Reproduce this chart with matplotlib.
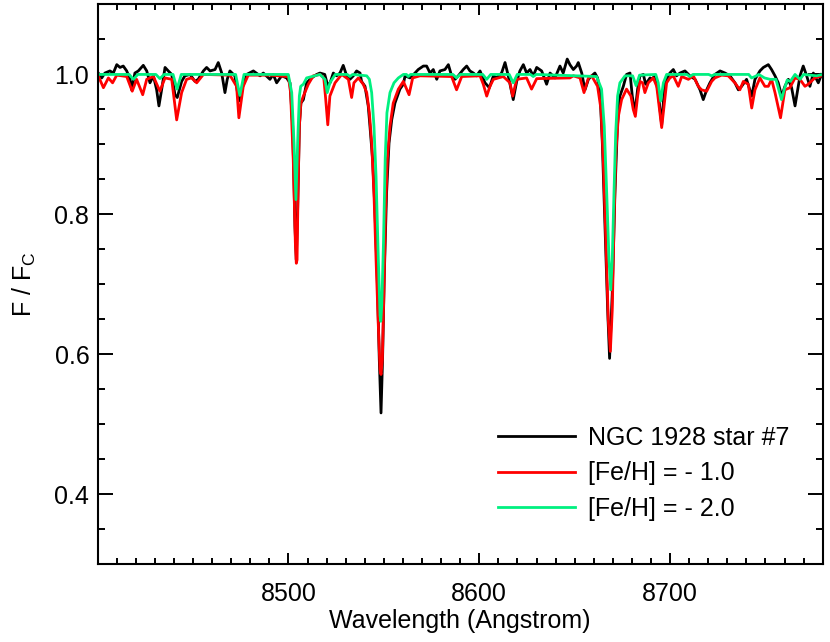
import matplotlib
matplotlib.use('Agg')
import matplotlib.pyplot as plt
from matplotlib.ticker import MultipleLocator

plt.rcParams['font.family'] = ['Liberation Sans', 'DejaVu Sans']

# observed spectrum, NGC 1928 star #7
star_wl = [8400.3, 8402.1, 8403.8, 8406.4, 8408.2, 8410.0, 8411.7, 8413.4, 8415.2, 8417.0,
           8417.8, 8419.5, 8421.3, 8423.9, 8425.7, 8427.4, 8429.2, 8430.9, 8432.1, 8433.5,
           8435.3, 8437.0, 8438.8, 8440.5, 8441.7, 8444.0, 8445.7, 8448.4, 8451.0, 8452.7,
           8455.4, 8457.1, 8458.9, 8461.5, 8463.2, 8465.0, 8466.7, 8467.9, 8469.3, 8471.9,
           8474.0, 8475.5, 8478.1, 8481.6, 8485.1, 8486.8, 8490.3, 8492.0, 8493.8, 8496.4,
           8499.0, 8500.8, 8502.2, 8503.4, 8504.1, 8504.8, 8505.7, 8506.5, 8507.8, 8509.5,
           8512.1, 8514.8, 8516.5, 8519.0, 8520.5, 8521.8, 8523.5, 8525.2, 8527.0, 8528.7,
           8530.5, 8532.2, 8534.0, 8535.7, 8537.5, 8538.3, 8540.1, 8541.8, 8542.7, 8544.1,
           8545.3, 8546.5, 8547.6, 8548.5, 8549.3, 8550.2, 8551.4, 8552.7, 8554.1, 8555.8,
           8558.4, 8560.2, 8561.1, 8563.7, 8566.3, 8568.0, 8570.7, 8572.4, 8574.2, 8575.9,
           8577.7, 8579.4, 8582.0, 8583.8, 8585.5, 8587.3, 8589.0, 8591.6, 8593.4, 8595.1,
           8596.9, 8598.6, 8600.4, 8603.0, 8605.3, 8607.4, 8609.1, 8611.7, 8613.5, 8615.2,
           8617.8, 8619.6, 8621.3, 8623.1, 8624.8, 8626.6, 8628.3, 8630.1, 8632.7, 8635.3,
           8637.1, 8639.7, 8642.3, 8644.0, 8646.1, 8647.5, 8649.3, 8651.0, 8651.9, 8653.7,
           8655.4, 8657.2, 8658.9, 8660.6, 8662.0, 8663.3, 8664.5, 8665.9, 8667.3, 8668.3,
           8669.7, 8671.1, 8672.4, 8673.7, 8675.5, 8677.2, 8679.0, 8680.2, 8681.6, 8683.0,
           8684.2, 8686.0, 8687.2, 8689.5, 8690.3, 8692.1, 8693.8, 8695.6, 8697.3, 8699.9,
           8701.7, 8703.4, 8705.2, 8707.8, 8710.4, 8713.1, 8715.7, 8717.4, 8719.2, 8720.9,
           8723.5, 8726.2, 8728.8, 8731.4, 8734.0, 8735.8, 8737.5, 8740.1, 8742.8, 8744.5,
           8747.1, 8748.9, 8751.5, 8753.2, 8755.0, 8756.7, 8758.5, 8760.2, 8762.0, 8763.7,
           8765.5, 8768.1, 8769.8, 8771.6, 8773.3, 8775.1, 8777.7, 8779.4]
star_flux = [1.002, 0.995, 1.002, 1.005, 1.002, 1.014, 1.010, 1.012, 1.005, 0.993,
             0.978, 1.002, 1.005, 1.013, 1.005, 0.988, 0.998, 0.978, 0.955, 0.978,
             1.010, 1.005, 1.000, 0.971, 0.967, 0.990, 0.998, 1.000, 0.990, 0.993,
             1.005, 1.010, 1.005, 1.007, 1.017, 1.002, 0.974, 0.993, 1.005, 0.998,
             0.962, 0.978, 1.000, 1.005, 0.998, 1.002, 0.993, 1.000, 0.988, 0.998,
             0.995, 0.988, 0.926, 0.783, 0.735, 0.807, 0.926, 0.959, 0.964, 0.988,
             0.995, 1.000, 1.002, 1.000, 0.985, 0.988, 1.002, 0.998, 1.002, 1.013,
             0.998, 0.993, 0.998, 1.005, 1.002, 0.990, 0.983, 0.955, 0.926, 0.878,
             0.807, 0.711, 0.592, 0.516, 0.592, 0.711, 0.830, 0.902, 0.935, 0.959,
             0.979, 0.986, 0.998, 0.995, 1.002, 1.007, 1.012, 1.012, 1.002, 1.007,
             0.993, 1.005, 1.007, 1.014, 0.998, 0.993, 0.998, 1.007, 1.012, 1.005,
             1.002, 0.998, 1.005, 0.988, 0.981, 0.998, 0.995, 1.002, 1.017, 0.998,
             0.964, 0.990, 1.005, 1.014, 1.002, 1.007, 0.998, 1.010, 1.005, 0.986,
             1.002, 0.995, 1.012, 1.002, 1.022, 1.014, 1.007, 1.012, 1.017, 1.002,
             0.978, 0.993, 0.998, 1.002, 0.995, 0.974, 0.902, 0.783, 0.663, 0.594,
             0.687, 0.830, 0.926, 0.969, 0.983, 1.000, 1.002, 0.969, 0.945, 0.979,
             0.998, 1.000, 0.986, 0.995, 0.993, 0.998, 0.974, 0.928, 0.988, 1.002,
             1.007, 0.998, 1.002, 1.005, 0.998, 0.993, 0.978, 0.964, 0.978, 0.988,
             1.000, 1.005, 1.002, 0.998, 0.988, 0.978, 0.983, 0.993, 0.969, 0.993,
             1.005, 1.010, 1.014, 1.007, 0.998, 0.988, 0.969, 0.983, 0.993, 0.981,
             0.955, 0.998, 1.012, 0.998, 0.983, 1.002, 0.988, 1.000]

# synthetic spectrum, [Fe/H] = -1.0
red_wl = [8400.3, 8403.0, 8405.6, 8407.8, 8410.0, 8415.2, 8418.1, 8420.4, 8423.6, 8425.7,
          8429.2, 8432.6, 8435.3, 8438.8, 8441.4, 8444.0, 8446.6, 8449.2, 8451.9, 8455.4,
          8469.3, 8472.8, 8474.0, 8476.3, 8478.9, 8490.3, 8499.0, 8499.9, 8501.1, 8502.5,
          8503.6, 8504.1, 8504.5, 8505.0, 8505.7, 8506.5, 8507.8, 8510.4, 8513.0, 8516.5,
          8518.5, 8519.5, 8520.6, 8521.7, 8524.4, 8527.9, 8531.4, 8533.1, 8534.3, 8536.6,
          8539.2, 8541.0, 8542.4, 8543.6, 8544.8, 8545.9, 8547.1, 8548.0, 8548.5, 8549.2,
          8550.0, 8550.9, 8551.8, 8553.2, 8554.9, 8557.6, 8560.2, 8563.2, 8565.1, 8568.9,
          8585.5, 8588.1, 8590.8, 8600.4, 8602.1, 8603.9, 8605.6, 8607.4, 8612.6, 8616.1,
          8617.5, 8619.6, 8624.8, 8627.4, 8630.1, 8647.5, 8649.3, 8652.8, 8654.9, 8657.2,
          8658.9, 8662.0, 8663.8, 8665.0, 8666.4, 8667.6, 8668.7, 8669.7, 8670.8, 8671.6,
          8672.9, 8674.6, 8677.2, 8679.5, 8680.7, 8681.8, 8683.0, 8684.2, 8685.6, 8686.8,
          8688.6, 8691.2, 8693.0, 8695.6, 8698.2, 8699.9, 8701.7, 8704.3, 8706.1, 8709.6,
          8712.2, 8714.8, 8716.5, 8719.2, 8721.8, 8723.5, 8727.0, 8730.5, 8734.0, 8736.6,
          8738.4, 8741.0, 8742.8, 8744.5, 8747.1, 8749.7, 8751.5, 8753.2, 8755.0, 8757.9,
          8760.2, 8762.8, 8765.5, 8768.1, 8770.7, 8772.4, 8775.9, 8779.4]
red_flux = [0.998, 0.981, 0.995, 0.988, 0.999, 0.997, 0.976, 0.993, 0.971, 0.993,
            0.997, 0.976, 0.995, 0.993, 0.935, 0.974, 0.993, 0.995, 0.988, 1.000,
            0.999, 0.983, 0.938, 0.983, 0.999, 0.999, 0.997, 0.998, 0.974, 0.878,
            0.759, 0.730, 0.735, 0.830, 0.926, 0.959, 0.969, 0.986, 0.998, 1.000,
            0.995, 0.965, 0.928, 0.969, 0.988, 1.000, 0.993, 0.967, 0.988, 0.995,
            0.986, 0.974, 0.945, 0.902, 0.830, 0.735, 0.640, 0.578, 0.571, 0.592,
            0.687, 0.807, 0.878, 0.926, 0.959, 0.979, 0.990, 0.971, 0.995, 0.998,
            0.997, 0.978, 0.997, 0.998, 0.986, 0.969, 0.983, 0.993, 0.997, 0.988,
            0.969, 0.993, 0.995, 0.979, 0.994, 0.995, 0.998, 0.995, 0.974, 0.995,
            0.998, 0.983, 0.950, 0.878, 0.759, 0.649, 0.604, 0.663, 0.807, 0.888,
            0.940, 0.964, 0.979, 0.969, 0.950, 0.940, 0.969, 0.990, 0.988, 0.974,
            0.988, 0.995, 0.983, 0.924, 0.988, 0.995, 0.998, 0.983, 0.997, 0.993,
            0.998, 0.983, 0.978, 0.976, 0.990, 0.995, 0.999, 0.998, 0.988, 0.978,
            0.990, 0.986, 0.952, 0.978, 0.995, 0.983, 0.983, 0.993, 0.974, 0.938,
            0.978, 0.981, 0.995, 0.993, 0.983, 0.986, 0.995, 0.998]

# synthetic spectrum, [Fe/H] = -2.0
green_wl = [8400.0, 8416.5, 8418.7, 8421.0, 8430.5, 8432.6, 8434.8, 8439.5, 8441.6, 8443.8,
            8472.3, 8474.5, 8476.7, 8499.9, 8501.7, 8502.9, 8503.9, 8504.8, 8505.7, 8506.4,
            8507.8, 8509.5, 8516.5, 8519.1, 8520.3, 8521.7, 8524.5, 8530.8, 8532.2, 8533.6,
            8541.0, 8542.4, 8543.6, 8544.8, 8545.9, 8547.1, 8548.0, 8548.4, 8548.9, 8549.8,
            8550.7, 8551.6, 8553.2, 8555.3, 8557.6, 8560.2, 8561.8, 8562.8, 8564.0, 8586.2,
            8588.1, 8590.0, 8601.8, 8603.9, 8606.0, 8615.7, 8617.8, 8619.9, 8626.8, 8628.3,
            8629.8, 8661.5, 8664.1, 8665.5, 8666.8, 8668.0, 8668.9, 8669.7, 8670.6, 8671.5,
            8672.5, 8673.7, 8676.4, 8680.4, 8682.2, 8684.0, 8692.5, 8693.8, 8695.1, 8696.5,
            8698.2, 8708.8, 8710.4, 8712.0, 8720.2, 8721.8, 8723.4, 8741.2, 8742.7, 8744.5,
            8746.5, 8749.5, 8752.4, 8755.5, 8756.8, 8758.4, 8760.0, 8761.4, 8763.0, 8765.5,
            8768.1, 8770.0, 8776.8, 8780.0]
green_flux = [1.000, 1.000, 0.993, 1.000, 1.000, 0.994, 1.000, 1.000, 0.979, 1.000,
              1.000, 0.970, 1.000, 1.000, 0.974, 0.902, 0.821, 0.902, 0.969, 0.983,
              0.986, 0.995, 1.000, 0.993, 0.974, 0.988, 1.000, 1.000, 0.997, 1.000,
              0.998, 0.993, 0.974, 0.926, 0.854, 0.735, 0.655, 0.647, 0.670, 0.760,
              0.880, 0.945, 0.974, 0.988, 0.995, 1.000, 1.000, 0.997, 1.000, 1.000,
              0.995, 1.000, 1.000, 0.993, 1.000, 1.000, 0.988, 1.000, 1.000, 0.997,
              1.000, 0.997, 0.979, 0.926, 0.830, 0.735, 0.692, 0.735, 0.830, 0.916,
              0.969, 0.988, 0.998, 0.998, 0.984, 0.999, 1.000, 0.988, 0.962, 0.988,
              1.000, 1.000, 0.997, 1.000, 1.000, 0.998, 1.000, 1.000, 0.995, 0.997,
              1.000, 0.995, 0.993, 0.993, 0.980, 0.964, 0.980, 0.992, 0.990, 1.000,
              0.993, 1.000, 0.998, 1.000]

labels = ['NGC 1928 star #7', '[Fe/H] = - 1.0', '[Fe/H] = - 2.0']
colors = ['black', '#ff0000', '#00f080']

fig = plt.figure(figsize=(8.3, 6.42), dpi=100)
ax = fig.add_axes([0.1177, 0.1215, 0.8735, 0.8715])

ax.plot(star_wl, star_flux, color=colors[0], lw=2, label=labels[0])
ax.plot(red_wl, red_flux, color=colors[1], lw=2, label=labels[1])
ax.plot(green_wl, green_flux, color=colors[2], lw=2, label=labels[2])

ax.set_xlim(8400, 8780)
ax.set_ylim(0.3, 1.1)
ax.xaxis.set_major_locator(MultipleLocator(100))
ax.xaxis.set_minor_locator(MultipleLocator(10))
ax.yaxis.set_major_locator(MultipleLocator(0.2))
ax.yaxis.set_minor_locator(MultipleLocator(0.05))
ax.set_xticks([8500, 8600, 8700])
ax.set_yticks([0.4, 0.6, 0.8, 1.0])

ax.tick_params(axis='both', which='both', direction='in', top=True, right=True,
               labelsize=18, width=1.4)
ax.tick_params(axis='x', which='major', length=8, pad=13)
ax.tick_params(axis='x', which='minor', length=4)
ax.tick_params(axis='y', which='major', length=10.5, pad=6)
ax.tick_params(axis='y', which='minor', length=5.3)
for s in ax.spines.values():
    s.set_linewidth(1.5)

ax.set_xlabel('Wavelength (Angstrom)', fontsize=18, labelpad=2)
ax.set_ylabel('F / F$_\\mathregular{C}$', fontsize=18, labelpad=12)

ax.legend(loc='upper left', bbox_to_anchor=(0.552, 0.247), frameon=False,
          fontsize=18, handlelength=3.1, handletextpad=0.5, labelspacing=0.46,
          borderpad=0, borderaxespad=0)

fig.savefig('out.png', dpi=100)
